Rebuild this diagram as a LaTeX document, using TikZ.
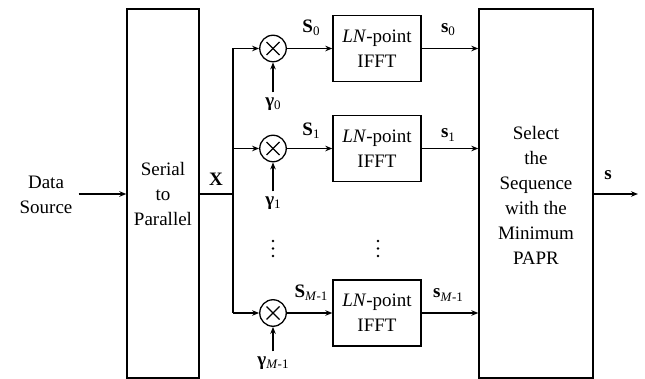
\documentclass[tikz,border=0pt]{standalone}
\usepackage{fontspec}
\setmainfont{Liberation Serif}
\usetikzlibrary{arrows.meta}
\newcommand\sbs[1]{\raisebox{-0.35ex}{\fontsize{13}{13}\selectfont #1}}
\tikzset{
  blk/.style={draw,line width=1.4pt,inner sep=0pt,align=center},
  mul/.style={draw,circle,line width=1.3pt,minimum size=26.5pt,inner sep=0pt},
  txt/.style={inner sep=2pt,align=center},
  lbl/.style={inner sep=0pt},
  conn/.style={line width=1.4pt},
  arr/.style={line width=1.4pt,-{Stealth[length=7pt,width=5.5pt]}},
  dotc/.style={fill,circle,inner sep=0pt,minimum size=2.8pt}
}
\begin{document}
\begin{tikzpicture}[x=1pt,y=-1pt,font=\fontsize{19}{25}\selectfont]
\useasboundingbox (0,0) rectangle (645,379);
% big boxes
\node[blk,minimum width=72pt,minimum height=369pt] (ser) at (163,193.5) {};
\node[txt] at (163,194) {Serial\\to\\Parallel};
\node[blk,minimum width=114pt,minimum height=369pt] (sel) at (536,193.5) {};
\node[txt] at (536,195) {Select\\the\\Sequence\\with the\\Minimum\\PAPR};
% data source
\node[txt] (ds) at (46,195) {Data\\Source};
\draw[arr] ([xshift=4pt]ds.east |- 0,194) -- (ser.west |- 0,194);
% IFFT boxes
\node[blk,minimum width=88pt,minimum height=66pt] (f0) at (377,48.5) {\textit{LN}-point\\IFFT};
\node[blk,minimum width=88pt,minimum height=66pt] (f1) at (377,148.5) {\textit{LN}-point\\IFFT};
\node[blk,minimum width=88pt,minimum height=66pt] (fM) at (377,313) {\textit{LN}-point\\IFFT};
% multipliers
\foreach \n/\y in {m0/48.5,m1/148.5,mM/313}{
  \node[mul] (\n) at (273,\y) {};
  \draw[line width=1.1pt] ([xshift=-6.5pt,yshift=-6.5pt]\n.center) -- ([xshift=6.5pt,yshift=6.5pt]\n.center);
  \draw[line width=1.1pt] ([xshift=-6.5pt,yshift=6.5pt]\n.center) -- ([xshift=6.5pt,yshift=-6.5pt]\n.center);
}
% branch
\coordinate (b0) at (233,48.5);
\coordinate (b1) at (233,148.5);
\coordinate (bM) at (233,313);
\coordinate (bx) at (233,194);
\draw[conn] (b0) -- (bM);
\draw[conn] (ser.east |- bx) -- (bx);
\node[lbl] (X) at (216,179) {\textbf{X}};
\draw[arr] (b0) -- (m0.west);
\draw[arr] (b1) -- (m1.west);
\draw[arr] (bM) -- (mM.west);
\draw[arr] (m0.east) -- (f0.west);
\draw[arr] (m1.east) -- (f1.west);
\draw[arr] (mM.east) -- (fM.west);
\draw[arr] (f0.east) -- (f0.east -| sel.west);
\draw[arr] (f1.east) -- (f1.east -| sel.west);
\draw[arr] (fM.east) -- (fM.east -| sel.west);
% gamma
\node[lbl] (g0) at (273,104) {\textbf{γ}\sbs{0}};
\node[lbl] (g1) at (273,203) {\textbf{γ}\sbs{1}};
\node[lbl] (gM) at (273,363) {\textbf{γ}\sbs{\textit{M}-1}};
\draw[arr] ([yshift=5pt]g0.north) -- (m0.south);
\draw[arr] ([yshift=5pt]g1.north) -- (m1.south);
\draw[arr] ([yshift=5pt]gM.north) -- (mM.south);
% labels
\node[lbl] (S0) at (311,28) {\textbf{S}\sbs{0}};
\node[lbl] (S1) at (311,131) {\textbf{S}\sbs{1}};
\node[lbl] (SM) at (311,293) {\textbf{S}\sbs{\textit{M}-1}};
\node[lbl] (s0) at (448,30) {\textbf{s}\sbs{0}};
\node[lbl] (s1) at (448,135) {\textbf{s}\sbs{1}};
\node[lbl] (sM) at (448,295) {\textbf{s}\sbs{\textit{M}-1}};
% output
\coordinate (out) at (638,194);
\draw[arr] (sel.east |- out) -- (out);
\node[lbl] (so) at (608,175) {\textbf{s}};
% dots
\foreach \x in {273,378}{
  \foreach \y in {241,248.5,256}{
    \node[dotc] at (\x,\y) {};
  }
}
\end{tikzpicture}
\end{document}
